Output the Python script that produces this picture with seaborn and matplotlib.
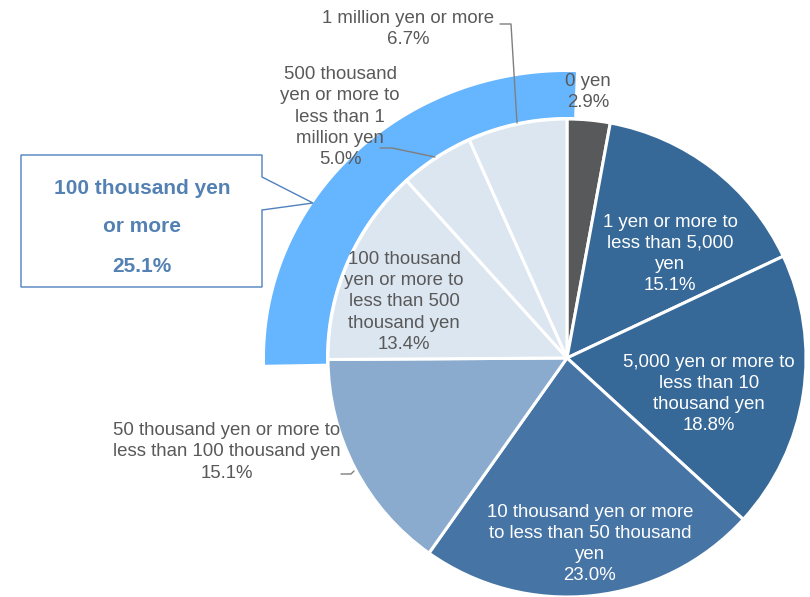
import numpy as np
import matplotlib
matplotlib.use("Agg")
import matplotlib.pyplot as plt
from matplotlib.patches import Polygon
import seaborn as sns

# Share of respondents by amount (percent)
categories = [
    "0 yen",
    "1 yen or more to\nless than 5,000\nyen",
    "5,000 yen or more to\nless than 10\nthousand yen",
    "10 thousand yen or more\nto less than 50 thousand\nyen",
    "50 thousand yen or more to\nless than 100 thousand yen",
    "100 thousand\nyen or more to\nless than 500\nthousand yen",
    "500 thousand\nyen or more to\nless than 1\nmillion yen",
    "1 million yen or more",
]
shares = [2.9, 15.1, 18.8, 23.0, 15.1, 13.4, 5.0, 6.7]
highlight_title = ["100 thousand yen", "or more"]
highlight_first = 5  # slices from here on form the highlighted group

sns.set_theme(style="white")
plt.rcParams["font.family"] = ["Liberation Sans", "DejaVu Sans"]

W, H = 810, 597
fig = plt.figure(figsize=(W / 100, H / 100), dpi=100)
ax = fig.add_axes([0, 0, 1, 1])


def Y(y):
    return H - y


GRAY_TXT = "#595959"
slice_colors = ["#58595b", "#366898", "#366898", "#4674a5",
                "#8aabcd", "#dce6f0", "#dce6f0", "#dce6f0"]
band_color = "#66b5ff"
box_color = "#4f81bd"
box_text = "#5381b3"

cx, cy, R = 567, 358, 239

# Highlight band around the top-left group
highlight_share = round(sum(shares[highlight_first:]), 1)
a0 = 90 - 1.7
a1 = 90 + highlight_share * 3.6 + 1.0
t = np.radians(np.linspace(a0, a1, 200))
r_in, rx_out, ry_out = 241, 302, 286
outer = np.column_stack([cx + rx_out * np.cos(t), Y(cy) + ry_out * np.sin(t)])
inner = np.column_stack([cx + r_in * np.cos(t[::-1]), Y(cy) + r_in * np.sin(t[::-1])])
ax.add_patch(Polygon(np.vstack([outer, inner]), closed=True,
                     facecolor=band_color, edgecolor="none", zorder=1))

# Main pie
ax.pie(shares, colors=slice_colors, startangle=90, counterclock=False,
       radius=R, center=(cx, Y(cy)),
       wedgeprops=dict(edgecolor="white", linewidth=2.2, zorder=2))

# Slice labels: (x, y) centre in pixels and text colour
label_pos = [
    (588, 92, GRAY_TXT),
    (670, 254, "white"),
    (709, 394, "white"),
    (590, 544, "white"),
    (227, 452, GRAY_TXT),
    (404, 302, GRAY_TXT),
    (340, 117, GRAY_TXT),
    (408, 29, GRAY_TXT),
]
for cat, val, (x, y, c) in zip(categories, shares, label_pos):
    ax.text(x, Y(y), f"{cat}\n{val:.1f}%", ha="center", va="center",
            multialignment="center", fontsize=13.4, color=c,
            linespacing=1.32, zorder=5)

# Leader lines for labels placed outside their slices
leaders = [
    [(500, 24), (511, 24), (517, 123)],
    [(380, 148), (392, 148), (435, 157)],
    [(341, 474), (351, 474), (354, 471)],
]
for pts in leaders:
    xs, ys = zip(*pts)
    ax.plot(xs, [Y(v) for v in ys], color="#7f7f7f", lw=1.0, zorder=4)

# Callout box pointing to the band
box = [(21, 155), (262, 155), (262, 177), (313, 203), (262, 210),
       (262, 287), (21, 287)]
ax.add_patch(Polygon([(x, Y(y)) for x, y in box], closed=True,
                     facecolor="white", edgecolor=box_color, lw=1.0, zorder=3))
callout_lines = highlight_title + [f"{highlight_share:.1f}%"]
for line, y in zip(callout_lines, [188, 227, 266]):
    ax.text(142, Y(y), line, ha="center", va="center", fontsize=15,
            fontweight="bold", color=box_text, zorder=5)

ax.set_xlim(0, W)
ax.set_ylim(0, H)
ax.set_axis_off()

fig.savefig("out.png", dpi=100)
